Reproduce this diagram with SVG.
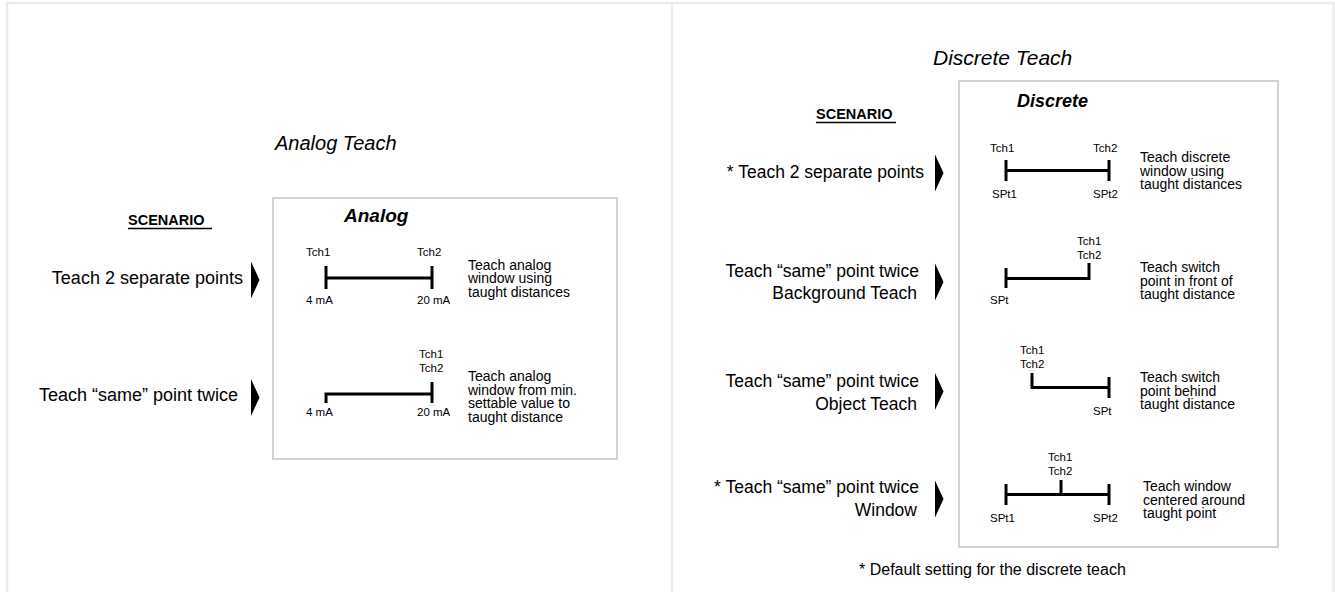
<svg xmlns="http://www.w3.org/2000/svg" width="1335" height="592" viewBox="0 0 1335 592">
<defs>
<style>
text{font-family:"Liberation Sans",Arial,Helvetica,sans-serif;fill:#000}
.title{font-style:italic;font-size:20px}
.hdr{font-weight:bold;font-size:14.5px}
.box{fill:#fff;stroke:#d2d2d2;stroke-width:2}
.boxt{font-weight:bold;font-style:italic;font-size:19px}
.lbl{font-size:18px;text-anchor:end}
.lblr{font-size:17.5px;text-anchor:end}
.sm{font-size:11.5px}
.desc{font-size:14px}
.bar{fill:none;stroke:#000;stroke-width:3}
.ul{stroke:#000;stroke-width:1.5}
.frame{stroke:#ececec;stroke-width:2.5;fill:none}
</style>
<path id="ptr" d="M0,-18.5 L8.5,0 L0,18.5 Z" fill="#000"/>
</defs>
<rect width="1335" height="592" fill="#fff"/>
<g id="frame">
<path class="frame" d="M6,3 H1335 M7,3 V592 M672,3 V592 M1333.5,3 V592"/>
</g>

<g id="analog-panel">
<text class="title" x="275" y="150">Analog Teach</text>
<g id="analog-scenario-header">
<text class="hdr" x="128" y="225">SCENARIO</text>
<line class="ul" x1="128" y1="228.5" x2="212" y2="228.5"/>
</g>
<g id="analog-scenario-1">
<text class="lbl" x="243" y="284">Teach 2 separate points</text>
</g>
<g id="analog-scenario-2">
<text class="lbl" x="238" y="401">Teach “same” point twice</text>
</g>
<g id="analog-box">
<rect class="box" x="273" y="198" width="344" height="261"/>
<text class="boxt" x="344" y="222">Analog</text>
</g>
<g id="analog-row-1">
<text class="sm" x="306" y="256">Tch1</text>
<text class="sm" x="417" y="256">Tch2</text>
<path class="bar" d="M326,266 V289 M432,266 V289 M326,278 H432"/>
<text class="sm" x="306" y="303.5">4 mA</text>
<text class="sm" x="417" y="303.5">20 mA</text>
<text class="desc" x="468" y="269.5">Teach analog</text>
<text class="desc" x="468" y="283">window using</text>
<text class="desc" x="468" y="296.5">taught distances</text>
</g>
<g id="analog-row-2">
<text class="sm" x="419" y="358">Tch1</text>
<text class="sm" x="419" y="372">Tch2</text>
<path class="bar" d="M326,403 V394 H432 M432,382 V403"/>
<text class="sm" x="306" y="416">4 mA</text>
<text class="sm" x="417" y="416">20 mA</text>
<text class="desc" x="468" y="381">Teach analog</text>
<text class="desc" x="468" y="394.5">window from min.</text>
<text class="desc" x="468" y="408">settable value to</text>
<text class="desc" x="468" y="421.5">taught distance</text>
</g>
</g>

<g id="discrete-panel">
<text class="title" x="933" y="65" style="font-size:21px">Discrete Teach</text>
<g id="discrete-scenario-header">
<text class="hdr" x="816" y="119">SCENARIO</text>
<line class="ul" x1="816" y1="122.5" x2="896" y2="122.5"/>
</g>
<g id="discrete-scenario-1">
<text class="lblr" x="924" y="178">* Teach 2 separate points</text>
</g>
<g id="discrete-scenario-2">
<text class="lblr" x="919" y="277">Teach “same” point twice</text>
<text class="lblr" x="917" y="299">Background Teach</text>
</g>
<g id="discrete-scenario-3">
<text class="lblr" x="919" y="387">Teach “same” point twice</text>
<text class="lblr" x="917" y="410">Object Teach</text>
</g>
<g id="discrete-scenario-4">
<text class="lblr" x="919" y="493">* Teach “same” point twice</text>
<text class="lblr" x="917" y="516">Window</text>
</g>
<g id="discrete-box">
<rect class="box" x="959" y="81" width="319" height="466"/>
<text class="boxt" x="1017" y="107" style="font-size:18px">Discrete</text>
</g>
<g id="discrete-row-1">
<text class="sm" x="990" y="152">Tch1</text>
<text class="sm" x="1093" y="152">Tch2</text>
<path class="bar" d="M1006,160 V181 M1109,160 V181 M1006,170.5 H1109"/>
<text class="sm" x="992" y="198">SPt1</text>
<text class="sm" x="1093" y="198">SPt2</text>
<text class="desc" x="1140" y="162">Teach discrete</text>
<text class="desc" x="1140" y="175.5">window using</text>
<text class="desc" x="1140" y="189">taught distances</text>
</g>
<g id="discrete-row-2">
<text class="sm" x="1077" y="245">Tch1</text>
<text class="sm" x="1077" y="259">Tch2</text>
<path class="bar" d="M1006,268 V288 M1006,278.5 H1089 V263"/>
<text class="sm" x="990" y="304">SPt</text>
<text class="desc" x="1140" y="272">Teach switch</text>
<text class="desc" x="1140" y="285.5">point in front of</text>
<text class="desc" x="1140" y="299">taught distance</text>
</g>
<g id="discrete-row-3">
<text class="sm" x="1020" y="354">Tch1</text>
<text class="sm" x="1020" y="368">Tch2</text>
<path class="bar" d="M1032,373 V387.5 H1109 M1109,377 V398"/>
<text class="sm" x="1093" y="415">SPt</text>
<text class="desc" x="1140" y="382">Teach switch</text>
<text class="desc" x="1140" y="395.5">point behind</text>
<text class="desc" x="1140" y="409">taught distance</text>
</g>
<g id="discrete-row-4">
<text class="sm" x="1048" y="461">Tch1</text>
<text class="sm" x="1048" y="475">Tch2</text>
<path class="bar" d="M1006,484 V505 M1109,484 V505 M1006,494.5 H1109 M1061,480 V494.5"/>
<text class="sm" x="990" y="522">SPt1</text>
<text class="sm" x="1093" y="522">SPt2</text>
<text class="desc" x="1143" y="491">Teach window</text>
<text class="desc" x="1143" y="504.5">centered around</text>
<text class="desc" x="1143" y="518">taught point</text>
</g>
<g id="footnote">
<text x="859" y="575" style="font-size:16px">* Default setting for the discrete teach</text>
</g>
</g>

<g id="connectors">
<use href="#ptr" x="251" y="280"/>
<use href="#ptr" x="251" y="397.5"/>
<use href="#ptr" x="935" y="173"/>
<use href="#ptr" x="935" y="282"/>
<use href="#ptr" x="935" y="391.5"/>
<use href="#ptr" x="935" y="499"/>
</g>
</svg>
